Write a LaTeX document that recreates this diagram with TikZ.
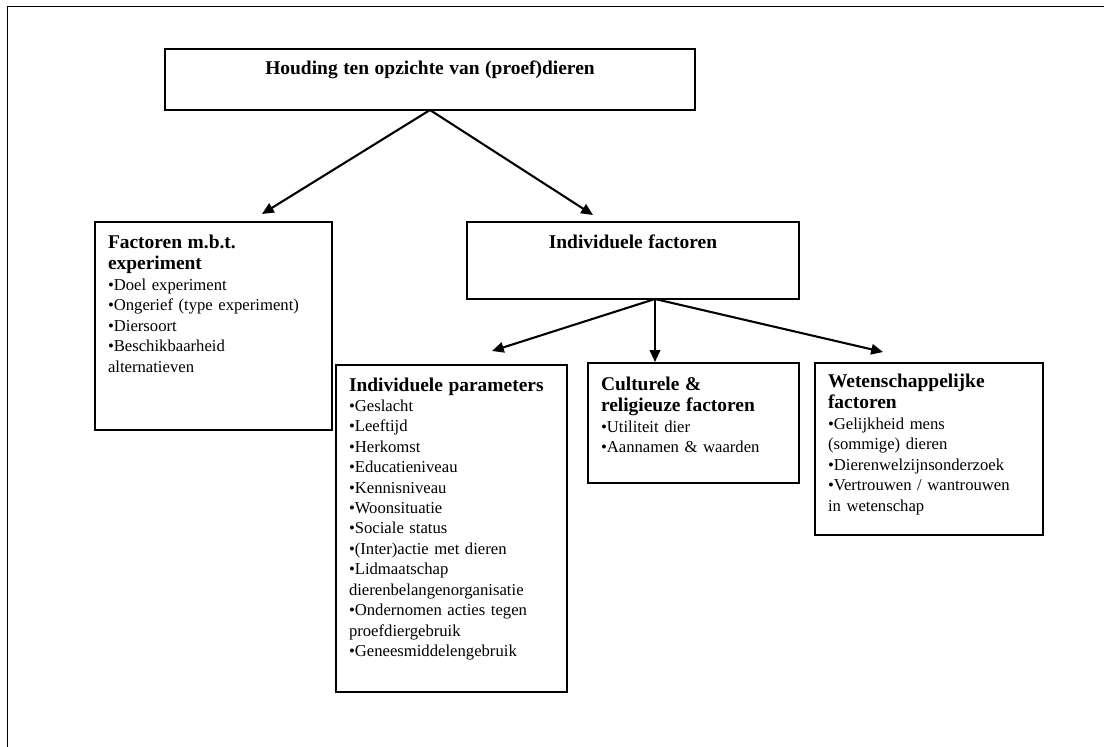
\documentclass[tikz,border=0pt]{standalone}
\usepackage{fontspec}
\setmainfont{Liberation Serif}
\usetikzlibrary{arrows.meta}
\newcommand{\titlefont}{\fontsize{14}{15.8}\selectfont\bfseries}
\newcommand{\itemfont}{\fontsize{12}{14.7}\selectfont}

\begin{document}
\begin{tikzpicture}[x=0.72pt, y=-0.72pt, >={Triangle[length=8.5pt,width=7.5pt]}, semithick]
  \tikzset{
    factorbox/.style={draw, line width=1.2pt, anchor=north west, outer sep=0pt,
      inner ysep=0pt, inner xsep=9.36pt, align=left, font=\itemfont},
    headbox/.style={factorbox, inner xsep=0pt, align=center}
  }
  \useasboundingbox (0,0) rectangle (1104,747);
  \draw[line width=1.1pt] (1104,6.5) -- (7.5,6.5) -- (7.5,747);

  \node[headbox, text width=381.6pt, text height=18.72pt, text depth=25.2pt]
    (top) at (165,49) {\titlefont Houding ten opzichte van (proef)dieren};
  \node[factorbox, text width=151.92pt, text height=18.72pt, text depth=131.04pt]
    (fac) at (95,222) {{\titlefont Factoren m.b.t.\\experiment\par}
    •Doel experiment\\•Ongerief (type experiment)\\•Diersoort\\•Beschikbaarheid\\alternatieven};
  \node[headbox, text width=239.04pt, text height=18.72pt, text depth=36.72pt]
    (mid) at (467,222) {\titlefont Individuele factoren};
  \node[factorbox, text width=147.6pt, text height=18.72pt, text depth=216.72pt]
    (par) at (336,365) {{\titlefont Individuele parameters\par}
    •Geslacht\\•Leeftijd\\•Herkomst\\•Educatieniveau\\•Kennisniveau\\•Woonsituatie\\
    •Sociale status\\•(Inter)actie met dieren\\•Lidmaatschap\\dierenbelangenorganisatie\\
    •Ondernomen acties tegen\\proefdiergebruik\\•Geneesmiddelengebruik};
  \node[factorbox, text width=133.2pt, text height=19.44pt, text depth=66.96pt]
    (cul) at (588,363) {{\titlefont Culturele \&\\religieuze factoren\par}
    •Utiliteit dier\\•Aannamen \& waarden};
  \node[factorbox, text width=145.44pt, text height=17.28pt, text depth=106.56pt]
    (wet) at (815,363) {{\titlefont Wetenschappelijke\\factoren\par}
    •Gelijkheid mens\\(sommige) dieren\\•Dierenwelzijnsonderzoek\\
    •Vertrouwen / wantrouwen\\in wetenschap};

  % arrow ends
  \coordinate (fac tip) at (262,214);
  \coordinate (mid tip) at (593,215);
  \coordinate (mid fork) at (655,299);
  \coordinate (par tip) at (492,351);
  \coordinate (cul tip) at (655,362);
  \coordinate (wet tip) at (883,352);

  \path[->, line width=1.5pt] (top.south) edge (fac tip) edge (mid tip);
  \path[->, line width=1.5pt] (mid fork) edge (par tip) edge (cul tip) edge (wet tip);
\end{tikzpicture}
\end{document}
